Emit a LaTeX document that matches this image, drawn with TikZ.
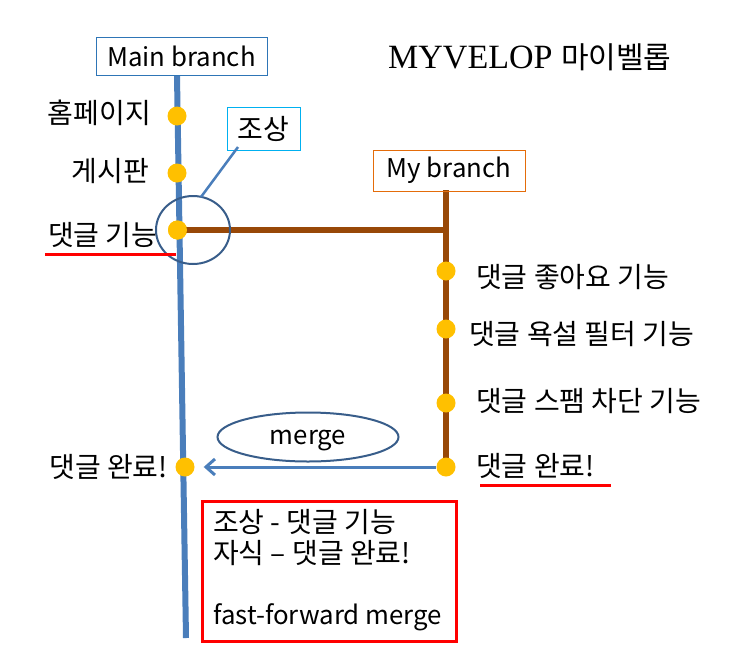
\documentclass[tikz,border=0pt]{standalone}
\usepackage{fontspec}
\setmainfont{Noto Sans CJK KR}
\newfontfamily\titlefont{Liberation Serif}
\newfontfamily\krfont{Noto Sans CJK KR}
\usetikzlibrary{arrows.meta,shapes.geometric}
\definecolor{mainblue}{RGB}{74,126,187}
\definecolor{boxblue}{RGB}{46,117,182}
\definecolor{skyblue}{RGB}{0,176,240}
\definecolor{darkblue}{RGB}{56,93,138}
\definecolor{brownline}{RGB}{152,72,7}
\definecolor{orangebox}{RGB}{228,108,10}
\definecolor{dotyellow}{RGB}{255,192,0}
\definecolor{redline}{RGB}{255,0,0}
\tikzset{
  dot/.style={circle,fill=dotyellow,draw=none,minimum size=19pt,inner sep=0pt},
  lbl/.style={font=\fontsize{28}{31}\selectfont,inner sep=0pt},
  latin/.style={font=\fontsize{25.8}{31}\selectfont,inner sep=0pt},
  labelbox/.style={draw,line width=1pt,inner sep=0pt},
  mainline/.style={mainblue,line width=6pt},
  brline/.style={brownline,line width=6pt},
  uline/.style={redline,line width=3pt},
}
\begin{document}
\begin{tikzpicture}[x=1pt,y=-1pt]
\useasboundingbox (0,0) rectangle (746,656);
% title
\node[anchor=west,inner sep=0pt] (title) at (388,57) {\fontsize{34}{38}\selectfont\titlefont MYVELOP \fontsize{30}{38}\selectfont\krfont 마이벨롭};
% main branch
\coordinate (mtop) at (177,76);
\coordinate (mbot) at (186,638);
\draw[mainline] (mtop) -- (mbot);
\node[labelbox,latin,draw=boxblue,minimum width=171pt,minimum height=38pt] (mainbox) at (181.5,56) {Main branch};
% my branch lines
\coordinate (btop) at (446,190);
\coordinate (bend) at (446,467);
\coordinate (bjoin) at (446,230);
\draw[brline] (btop) -- (bend);
\node[dot] (m3) at (177.5,230) {};
\draw[brline] (m3.center) -- (bjoin);
\node[labelbox,latin,draw=orangebox,minimum width=152pt,minimum height=41pt] (mybox) at (449,170.5) {My branch};
% ancestor circle
\draw[darkblue,line width=2pt] (193,230) ellipse [x radius=37pt, y radius=34pt];
\coordinate (circtop) at (201,197);
\node[labelbox,lbl,draw=skyblue,minimum width=73pt,minimum height=43pt] (anc) at (263.5,128.5) {조상};
\draw[mainblue,line width=2.5pt] (238,147) -- (circtop);
% main dots
\node[dot] (m1) at (177,116) {};
\node[dot] (m2) at (177,173) {};
\node[dot] (m3b) at (177.5,230) {};
\node[dot] (m4) at (185,467) {};
% branch dots
\node[dot] (b1) at (446,271) {};
\node[dot] (b2) at (446,329) {};
\node[dot] (b3) at (446,403) {};
\node[dot] (b4) at (446,467) {};
% left labels
\node[lbl,anchor=east] (l1) at (151,113) {홈페이지};
\node[lbl,anchor=east] (l2) at (149,171) {게시판};
\node[lbl,anchor=west] (l3) at (48,235) {댓글 기능};
\coordinate (u1a) at (45,254);
\coordinate (u1b) at (176,254);
\draw[uline] (u1a) -- (u1b);
\node[lbl,anchor=east] (l4) at (168,467) {댓글 완료!};
% right labels
\node[lbl,anchor=west] (r1) at (476,277) {댓글 좋아요 기능};
\node[lbl,anchor=west] (r2) at (469,334) {댓글 욕설 필터 기능};
\node[lbl,anchor=west] (r3) at (476,401) {댓글 스팸 차단 기능};
\node[lbl,anchor=west] (r4) at (476,466) {댓글 완료!};
\coordinate (u2a) at (480,485);
\coordinate (u2b) at (611,485);
\draw[uline] (u2a) -- (u2b);
% merge
\node[draw=darkblue,line width=2pt,ellipse,minimum width=181pt,minimum height=49pt,latin,text depth=0pt] (merge) at (308,437) {merge};
\draw[mainblue,line width=3pt,-{Straight Barb[length=9pt,width=16pt]}] (b4.west) -- ([xshift=9pt]m4.east);
% note box
\node[draw=redline,line width=3pt,anchor=north west,minimum width=254pt,minimum height=140pt,inner sep=0pt] (note) at (201,500) {};
\node[lbl,anchor=west] (n1) at (213,522) {조상 - 댓글 기능};
\node[lbl,anchor=west] (n2) at (213,553) {자식 – 댓글 완료!};
\node[latin,anchor=west] (n3) at (213,617) {fast-forward merge};
\end{tikzpicture}
\end{document}
